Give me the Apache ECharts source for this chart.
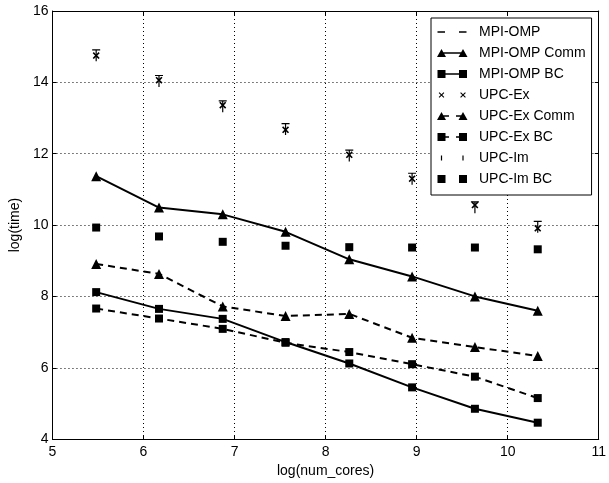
<!DOCTYPE html>
<html>
<head>
<meta charset="utf-8">
<script src="https://cdn.jsdelivr.net/npm/echarts@6/dist/echarts.min.js"></script>
<style>
  html, body { margin: 0; padding: 0; background: #fff; }
  #main { width: 609px; height: 483px; }
</style>
</head>
<body>
<div id="main"></div>
<script>
// log(num_cores) for each run
const cores = [5.48, 6.17, 6.87, 7.56, 8.26, 8.95, 9.64, 10.33];

const mpiOmp = [];
const mpiOmpComm = [11.37, 10.49, 10.30, 9.81, 9.04, 8.56, 8.00, 7.60];
const mpiOmpBC = [8.12, 7.65, 7.37, 6.72, 6.12, 5.45, 4.85, 4.46];
const upcEx = [14.75, 14.06, 13.36, 12.67, 11.97, 11.30, 10.56, 9.91];
const upcExComm = [8.91, 8.63, 7.72, 7.45, 7.51, 6.84, 6.58, 6.33];
const upcExBC = [7.66, 7.38, 7.09, 6.70, 6.44, 6.10, 5.75, 5.15];
const upcIm = [14.76, 14.04, 13.33, 12.69, 11.95, 11.30, 10.50, 9.95];
const upcImBC = [9.93, 9.68, 9.53, 9.42, 9.38, 9.37, 9.37, 9.32];

const xTicks = [5, 6, 7, 8, 9, 10, 11];
const yTicks = [4, 6, 8, 10, 12, 14, 16];

const pairs = vals => vals.map((v, i) => [cores[i], v]);

const crossPath = 'path://M0,1.6 L1.6,0 L5,3.4 L8.4,0 L10,1.6 L6.6,5 L10,8.4 L8.4,10 L5,6.6 L1.6,10 L0,8.4 L3.4,5 Z';
const barPath = 'path://M0,0 H8 V1.2 H0 Z M3.4,0 H4.6 V12 H3.4 Z';

// legend icons, matplotlib style: marker at both ends, 37x10 box
const A = 4.5, B = 26;
const box = 'M0,0 M37,10 ';
const tri = c => `M${c - 4.5},9 L${c},1 L${c + 4.5},9 Z `;
const sq = c => `M${c - 4},1 H${c + 4} V9 H${c - 4} Z `;
const seg = (x0, x1) => `M${x0},4.3 H${x1} V5.7 H${x0} Z `;
const cross = c => {
  const r = 2.8, w = 0.75;
  return `M${c - r},${5 - r + w} L${c - r + w},${5 - r} L${c},${5 - w} L${c + r - w},${5 - r} L${c + r},${5 - r + w} ` +
    `L${c + w},5 L${c + r},${5 + r - w} L${c + r - w},${5 + r} L${c},${5 + w} L${c - r + w},${5 + r} L${c - r},${5 + r - w} L${c - w},5 Z `;
};
const tick = c => `M${c - 0.6},2.6 H${c + 0.6} V7.4 H${c - 0.6} Z `;
const icons = {
  'MPI-OMP': box + seg(0.5, 8) + seg(22, 29.5),
  'MPI-OMP Comm': box + seg(A, B) + tri(A) + tri(B),
  'MPI-OMP BC': box + seg(A, B) + sq(A) + sq(B),
  'UPC-Ex': box + cross(A) + cross(B),
  'UPC-Ex Comm': box + seg(A, 12) + seg(19, B) + tri(A) + tri(B),
  'UPC-Ex BC': box + seg(A, 12) + seg(19, B) + sq(A) + sq(B),
  'UPC-Im': box + tick(A) + tick(B),
  'UPC-Im BC': box + sq(A) + sq(B)
};
const legendNames = ['MPI-OMP', 'MPI-OMP Comm', 'MPI-OMP BC', 'UPC-Ex', 'UPC-Ex Comm', 'UPC-Ex BC', 'UPC-Im', 'UPC-Im BC'];

const chart = echarts.init(document.getElementById('main'));
const font = 'Liberation Sans, Arial, sans-serif';

const lineSeries = (name, data, symbol, dashed) => ({
  name, type: 'line', data: pairs(data),
  symbol, symbolSize: symbol === 'triangle' ? 10 : 8,
  lineStyle: { color: '#000', width: 2, type: dashed ? [7, 5] : 'solid' },
  itemStyle: { color: '#000', opacity: 1 },
  showAllSymbol: true, z: 3
});

const option = {
  animation: false,
  grid: { left: 49, right: 4, top: 11, bottom: 42 },
  legend: {
    orient: 'vertical', left: 431, top: 18,
    padding: [7, 6, 9, 6],
    itemWidth: 37, itemHeight: 10, itemGap: 7,
    backgroundColor: '#fff', borderColor: '#000', borderWidth: 1, borderRadius: 0,
    textStyle: { fontFamily: font, fontSize: 14, color: '#000', lineHeight: 14 },
    data: legendNames.map(n => ({
      name: n, icon: 'path://' + icons[n],
      itemStyle: { color: '#000', borderWidth: 0, opacity: 1 }
    }))
  },
  xAxis: [{
    type: 'value', min: 5, max: 11, interval: 1,
    name: 'log(num_cores)', nameLocation: 'middle', nameGap: 24,
    nameTextStyle: { fontFamily: font, fontSize: 14, color: '#000' },
    axisLine: { lineStyle: { color: '#000', width: 1 } },
    axisTick: { inside: true, length: 4, lineStyle: { color: '#000' } },
    axisLabel: { fontFamily: font, fontSize: 14, color: '#000', margin: 6,
      formatter: v => xTicks.includes(v) ? String(v) : '' },
    splitLine: { show: true, lineStyle: { color: '#000', type: [1, 3], width: 1 } }
  }, {
    type: 'value', min: 5, max: 11, interval: 1, position: 'top',
    axisLine: { show: true, lineStyle: { color: '#000' } },
    axisTick: { inside: true, length: 4, lineStyle: { color: '#000' } },
    axisLabel: { show: false }, splitLine: { show: false }
  }],
  yAxis: [{
    type: 'value', min: 4, max: 16, interval: 2,
    name: 'log(time)', nameLocation: 'middle', nameGap: 25,
    nameTextStyle: { fontFamily: font, fontSize: 14, color: '#000' },
    axisLine: { show: true, lineStyle: { color: '#000', width: 1 } },
    axisTick: { show: true, inside: true, length: 4, lineStyle: { color: '#000' } },
    axisLabel: { fontFamily: font, fontSize: 14, color: '#000', margin: 4,
      formatter: v => yTicks.includes(v) ? String(v) : '' },
    splitLine: { show: true, lineStyle: { color: '#000', type: [1, 3], width: 1 } }
  }, {
    type: 'value', min: 4, max: 16, interval: 2, position: 'right',
    axisLine: { show: true, lineStyle: { color: '#000' } },
    axisTick: { show: true, inside: true, length: 4, lineStyle: { color: '#000' } },
    axisLabel: { show: false }, splitLine: { show: false }
  }],
  series: [
    lineSeries('MPI-OMP', mpiOmp, 'none', true),
    lineSeries('MPI-OMP Comm', mpiOmpComm, 'triangle', false),
    lineSeries('MPI-OMP BC', mpiOmpBC, 'rect', false),
    {
      name: 'UPC-Ex', type: 'scatter', data: pairs(upcEx),
      symbol: crossPath, symbolSize: 7, itemStyle: { color: '#000', opacity: 1 }, z: 4
    },
    lineSeries('UPC-Ex Comm', upcExComm, 'triangle', true),
    lineSeries('UPC-Ex BC', upcExBC, 'rect', true),
    {
      name: 'UPC-Im', type: 'scatter', data: pairs(upcIm),
      symbol: barPath, symbolSize: [8, 12], symbolKeepAspect: false,
      itemStyle: { color: '#000', opacity: 1 }, z: 4
    },
    {
      name: 'UPC-Im BC', type: 'scatter', data: pairs(upcImBC),
      symbol: 'rect', symbolSize: 8, itemStyle: { color: '#000', opacity: 1 }, z: 4
    }
  ]
};

chart.setOption(option);
</script>
</body>
</html>
